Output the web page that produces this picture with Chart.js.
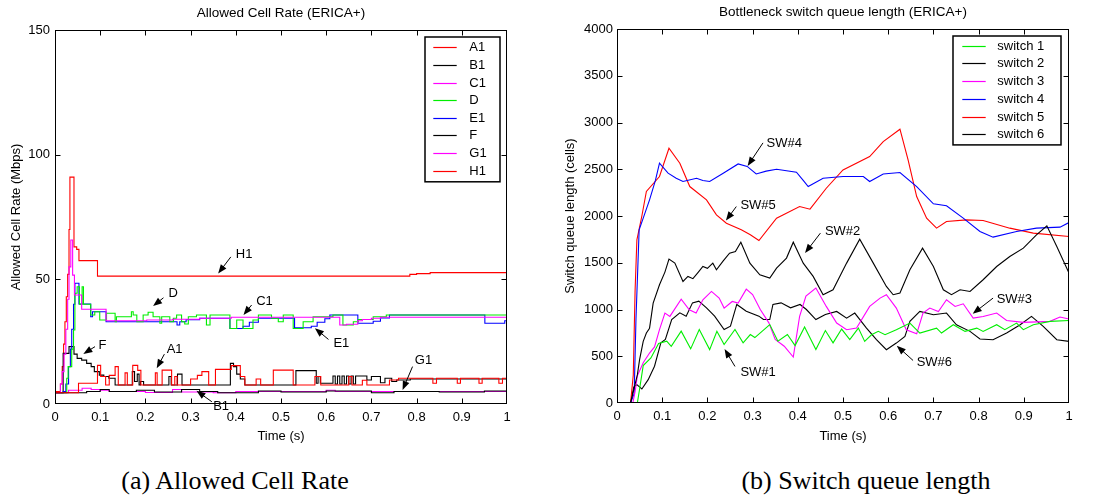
<!DOCTYPE html>
<html>
<head>
<meta charset="utf-8">
<script src="https://cdn.jsdelivr.net/npm/chart.js@4.4.1/dist/chart.umd.min.js"></script>
<style>
  html, body { margin: 0; padding: 0; background: #fff; }
  body { width: 1101px; height: 502px; position: relative; overflow: hidden; }
  .panel { position: absolute; top: 0; height: 445px; }
  #left { left: 0; width: 550px; }
  #right { left: 550px; width: 551px; }
  .caption { position: absolute; top: 466px; line-height: 30px; font-family: "Liberation Serif", "Times New Roman", serif; font-size: 26px; color: #000; text-align: center; white-space: nowrap; }
</style>
</head>
<body>
<div class="panel" id="left"><canvas id="acrChart" width="550" height="445"></canvas></div>
<div class="panel" id="right"><canvas id="queueChart" width="551" height="445"></canvas></div>
<div class="caption" style="left:0;width:470px">(a) Allowed Cell Rate</div>
<div class="caption" style="left:650px;width:432px">(b) Switch queue length</div>
<script>
// ---- axis ticks ----
const timeTicks = [0, 0.1, 0.2, 0.3, 0.4, 0.5, 0.6, 0.7, 0.8, 0.9, 1];
const timeLabels = ['0', '0.1', '0.2', '0.3', '0.4', '0.5', '0.6', '0.7', '0.8', '0.9', '1'];
const acrTicks = [0, 50, 100, 150];
const queueTicks = [0, 500, 1000, 1500, 2000, 2500, 3000, 3500, 4000];

// ---- (a) allowed cell rate, step series (time s, Mbps) ----
const a1T = [0, 0.052, 0.094, 0.101, 0.112, 0.12, 0.133, 0.14, 0.155, 0.16, 0.172, 0.183, 0.19, 0.222, 0.226, 0.237, 0.258, 0.265, 0.27, 0.3, 0.315, 0.325, 0.34, 0.355, 0.39, 0.41, 0.42, 0.445, 0.455, 0.483, 0.527, 0.575, 0.588, 0.65, 0.657, 0.68, 0.69, 0.74, 0.76, 0.836, 0.844, 0.89, 0.897, 0.938, 0.945, 0.982, 0.99, 1];
const a1V = [4.5, 8.3, 15.5, 11, 7.6, 11.5, 15, 7.6, 12.5, 7.6, 15.5, 13.5, 7.6, 12.5, 7.6, 13.6, 7.6, 11, 7.6, 10, 11.5, 13, 7.6, 13.9, 15.4, 11, 7.6, 10, 7.6, 13.6, 7.6, 11, 7.6, 11, 7.6, 9.5, 7.6, 9.6, 10.3, 8.3, 10.3, 8.3, 10.3, 8.3, 10.3, 8.3, 10.3, 10.3];
const b1T = [0, 0.07, 0.1, 0.12, 0.18, 0.22, 0.28, 0.32, 0.36, 0.45, 0.5, 0.6, 0.7, 0.75, 0.85, 0.95, 1];
const b1V = [4.5, 5, 5.8, 5, 5.5, 4.8, 5.8, 5, 4.5, 5.2, 4.8, 5.2, 4.5, 5, 4.8, 5.2, 5];
const c1T = [0, 0.012, 0.016, 0.02, 0.024, 0.028, 0.031, 0.035, 0.039, 0.043, 0.059, 0.113, 0.203, 0.26, 0.32, 0.39, 0.63, 0.645, 0.67, 0.68, 0.7, 0.72, 1];
const c1V = [4.5, 8, 13, 20, 30, 42, 55, 65.8, 51.7, 43.7, 38, 33.4, 33.7, 34, 34.4, 34.8, 31.7, 32, 33.4, 33.9, 34.4, 34.8, 34.8];
const dT = [0, 0.026, 0.029, 0.037, 0.041, 0.044, 0.049, 0.054, 0.06, 0.063, 0.079, 0.088, 0.099, 0.114, 0.133, 0.136, 0.169, 0.173, 0.181, 0.195, 0.206, 0.217, 0.232, 0.236, 0.254, 0.262, 0.269, 0.28, 0.287, 0.295, 0.313, 0.335, 0.343, 0.387, 0.402, 0.416, 0.438, 0.45, 0.479, 0.494, 0.505, 0.527, 0.549, 0.571, 0.615, 0.637, 0.66, 0.671, 0.704, 0.733, 1];
const dV = [4.5, 10.3, 15, 22, 29.7, 44.4, 47, 40, 47, 40, 35.7, 37, 33.7, 36.4, 33, 35, 37, 35.7, 33, 35.7, 36.8, 35, 32.4, 35, 33, 34.4, 35.7, 33, 32.1, 35, 35.7, 31.7, 35.7, 30.3, 33.7, 30.3, 33.7, 35.7, 34.4, 33, 35.7, 30.3, 33, 35, 35.7, 31.7, 33, 33.9, 35, 35.7, 35.3];
const e1T = [0, 0.018, 0.024, 0.03, 0.034, 0.037, 0.041, 0.044, 0.053, 0.079, 0.083, 0.113, 0.27, 0.276, 0.29, 0.32, 0.387, 0.416, 0.43, 0.45, 0.53, 0.567, 0.58, 0.597, 0.608, 0.67, 0.704, 0.72, 0.74, 0.951, 0.995, 1];
const e1V = [4.5, 5, 8, 15, 22, 30, 40, 48.4, 40.1, 35, 37, 33, 31.7, 33, 33.8, 34.4, 30.3, 31.2, 32.8, 34.4, 30.6, 31.2, 32.8, 34.2, 35.7, 32.4, 33.2, 34.5, 35.7, 32.4, 33.4, 33.4];
const fT = [0, 0.018, 0.031, 0.042, 0.049, 0.059, 0.07, 0.08, 0.087, 0.098, 0.108, 0.119, 0.133, 0.171, 0.176, 0.182, 0.186, 0.189, 0.196, 0.252, 0.257, 0.271, 0.281, 0.388, 0.395, 0.402, 0.41, 0.42, 0.533, 0.578, 0.582, 0.587, 0.615, 0.62, 0.625, 0.63, 0.635, 0.64, 0.645, 0.65, 0.655, 0.66, 0.665, 0.67, 0.69, 0.7, 0.72, 0.73, 0.745, 0.756, 0.786, 1];
const fV = [4.5, 20.3, 23, 20, 18.3, 17.6, 16.3, 15, 13, 11.6, 11, 10.3, 7.6, 13, 9, 12, 7.6, 9, 7.6, 11, 7.6, 12, 7.6, 16.3, 15, 12, 10, 7.6, 13.4, 8.3, 11, 8.3, 11.2, 8, 11.2, 8, 11.2, 8, 11.2, 8, 11.2, 8, 11.2, 11.2, 9.6, 11, 8.5, 10.3, 9, 9.6, 10, 9.6];
const g1T = [0, 0.03, 0.06, 0.08, 0.1, 0.12, 0.2, 0.26, 0.28, 0.35, 0.4, 0.5, 0.6, 0.62, 1];
const g1V = [4.5, 5.5, 6.3, 5.8, 5.5, 5, 4.6, 5.8, 4.8, 4.5, 5, 5, 5.5, 5, 5];
const h1T = [0, 0.012, 0.016, 0.019, 0.022, 0.025, 0.028, 0.031, 0.033, 0.042, 0.048, 0.053, 0.094, 0.785, 0.8, 0.83, 1];
const h1V = [5, 8, 15, 24, 33, 43, 52, 70, 91, 63, 62, 57.5, 51.3, 52, 52.3, 52.7, 52.7];

// ---- (b) bottleneck queue length (time s, cells) ----
const sw1T = [0, 0.045, 0.05, 0.058, 0.075, 0.092, 0.11, 0.12, 0.142, 0.163, 0.182, 0.205, 0.221, 0.237, 0.261, 0.279, 0.295, 0.305, 0.338, 0.356, 0.377, 0.394, 0.415, 0.44, 0.461, 0.478, 0.497, 0.515, 0.534, 0.548, 0.563, 0.578, 0.593, 0.618, 0.648, 0.67, 0.707, 0.718, 0.744, 0.77, 0.796, 0.81, 0.84, 0.858, 0.884, 0.899, 0.921, 0.958, 1];
const sw1V = [0, 0, 150, 400, 482, 636, 661, 607, 768, 579, 786, 571, 768, 625, 786, 643, 732, 700, 839, 661, 732, 614, 814, 571, 775, 643, 791, 677, 801, 659, 730, 766, 730, 784, 855, 748, 801, 748, 837, 766, 801, 766, 837, 784, 855, 784, 837, 873, 883];
const sw2T = [0, 0.03, 0.039, 0.045, 0.05, 0.058, 0.065, 0.072, 0.08, 0.094, 0.106, 0.115, 0.128, 0.146, 0.157, 0.168, 0.18, 0.19, 0.2, 0.212, 0.22, 0.235, 0.249, 0.262, 0.274, 0.294, 0.316, 0.338, 0.353, 0.375, 0.39, 0.412, 0.434, 0.456, 0.478, 0.508, 0.537, 0.567, 0.596, 0.611, 0.626, 0.648, 0.676, 0.7, 0.722, 0.74, 0.759, 0.781, 0.81, 0.84, 0.869, 0.899, 0.928, 0.951, 0.973, 1];
const sw2V = [0, 0, 180, 300, 463, 660, 748, 800, 1069, 1264, 1400, 1539, 1496, 1300, 1354, 1330, 1400, 1460, 1440, 1496, 1425, 1520, 1603, 1620, 1720, 1496, 1371, 1336, 1443, 1550, 1720, 1496, 1354, 1158, 1211, 1496, 1752, 1496, 1247, 1158, 1176, 1425, 1656, 1460, 1211, 1158, 1211, 1193, 1318, 1460, 1567, 1656, 1798, 1895, 1674, 1389];
const sw3T = [0, 0.035, 0.04, 0.045, 0.058, 0.072, 0.083, 0.094, 0.106, 0.117, 0.142, 0.16, 0.175, 0.19, 0.209, 0.226, 0.237, 0.255, 0.268, 0.286, 0.3, 0.317, 0.336, 0.35, 0.37, 0.39, 0.404, 0.418, 0.44, 0.463, 0.486, 0.508, 0.53, 0.559, 0.582, 0.596, 0.618, 0.64, 0.663, 0.677, 0.692, 0.711, 0.729, 0.748, 0.766, 0.788, 0.81, 0.84, 0.862, 0.899, 0.958, 0.98, 1];
const sw3V = [0, 0, 120, 290, 430, 534, 600, 784, 962, 926, 1111, 997, 962, 1104, 1193, 1122, 1015, 1086, 1069, 1218, 1160, 1000, 857, 679, 607, 492, 926, 1143, 1229, 1033, 855, 784, 801, 1033, 1122, 1158, 1015, 784, 740, 962, 1015, 979, 1104, 1033, 1061, 908, 926, 962, 883, 862, 873, 919, 898];
const sw4T = [0, 0.03, 0.038, 0.042, 0.049, 0.058, 0.072, 0.085, 0.094, 0.113, 0.131, 0.146, 0.176, 0.19, 0.205, 0.235, 0.268, 0.288, 0.308, 0.33, 0.353, 0.397, 0.412, 0.423, 0.456, 0.5, 0.545, 0.559, 0.589, 0.626, 0.663, 0.7, 0.729, 0.766, 0.803, 0.832, 0.884, 0.928, 0.98, 1];
const sw4V = [0, 0, 100, 900, 1852, 1977, 2173, 2380, 2565, 2458, 2404, 2369, 2404, 2380, 2369, 2458, 2557, 2530, 2450, 2480, 2500, 2468, 2380, 2315, 2404, 2422, 2422, 2369, 2450, 2465, 2315, 2130, 2109, 1977, 1834, 1774, 1834, 1870, 1881, 1930];
const sw5T = [0, 0.03, 0.036, 0.04, 0.044, 0.055, 0.065, 0.094, 0.115, 0.139, 0.161, 0.198, 0.22, 0.242, 0.275, 0.295, 0.314, 0.353, 0.404, 0.427, 0.463, 0.5, 0.559, 0.589, 0.626, 0.644, 0.663, 0.685, 0.707, 0.729, 0.773, 0.81, 0.869, 0.921, 1];
const sw5V = [0, 0, 300, 1200, 1745, 2000, 2262, 2422, 2725, 2565, 2315, 2173, 2012, 1923, 1852, 1800, 1738, 1977, 2101, 2073, 2297, 2493, 2636, 2796, 2928, 2600, 2208, 1977, 1870, 1941, 1959, 1952, 1870, 1817, 1781];
const sw6T = [0, 0.03, 0.037, 0.044, 0.055, 0.069, 0.083, 0.097, 0.107, 0.121, 0.139, 0.153, 0.167, 0.181, 0.198, 0.216, 0.237, 0.251, 0.265, 0.286, 0.314, 0.324, 0.338, 0.345, 0.363, 0.384, 0.405, 0.419, 0.44, 0.461, 0.486, 0.508, 0.526, 0.552, 0.574, 0.596, 0.618, 0.637, 0.648, 0.67, 0.7, 0.729, 0.751, 0.781, 0.803, 0.832, 0.862, 0.892, 0.917, 0.943, 0.973, 1];
const sw6V = [0, 0, 170, 196, 150, 250, 393, 643, 679, 893, 964, 929, 1071, 1089, 1018, 929, 786, 821, 1054, 982, 929, 893, 893, 1054, 1071, 1018, 1054, 1000, 893, 946, 979, 908, 962, 801, 677, 570, 641, 712, 873, 979, 944, 962, 837, 766, 684, 677, 748, 837, 926, 819, 677, 659];

// ---- labelled arrows: text anchor, arrow tail, arrow head (data coords) ----
const acrNotes = [
  { text: 'H1', at: [0.400, 59.8], from: [0.389, 59], to: [0.361, 52.3] },
  { text: 'D', at: [0.251, 44.4], from: [0.24, 42.6], to: [0.217, 39.3] },
  { text: 'C1', at: [0.445, 41.3], from: [0.435, 39.7], to: [0.417, 35.7] },
  { text: 'E1', at: [0.616, 24.3], from: [0.605, 25.9], to: [0.575, 30.4] },
  { text: 'F', at: [0.096, 23.3], from: [0.0885, 23], to: [0.0627, 20.1] },
  { text: 'A1', at: [0.247, 21.7], from: [0.242, 20], to: [0.225, 14.3] },
  { text: 'G1', at: [0.796, 17.4], from: [0.791, 15], to: [0.769, 5.6] },
  { text: 'B1', at: [0.350, -0.8], from: [0.347, 0.9], to: [0.313, 5.3] }
];
const queueNotes = [
  { text: 'SW#4', at: [0.331, 2771], from: [0.323, 2782], to: [0.289, 2536] },
  { text: 'SW#5', at: [0.273, 2109], from: [0.264, 2101], to: [0.241, 1951] },
  { text: 'SW#2', at: [0.46, 1834], from: [0.45, 1817], to: [0.416, 1603] },
  { text: 'SW#3', at: [0.84, 1104], from: [0.832, 1122], to: [0.787, 954] },
  { text: 'SW#6', at: [0.663, 434], from: [0.655, 455], to: [0.619, 612] },
  { text: 'SW#1', at: [0.273, 327], from: [0.261, 391], to: [0.238, 577] }
];

const FONT = '"Liberation Sans", Arial, sans-serif';
Chart.defaults.font.family = FONT;
Chart.defaults.font.size = 13;
Chart.defaults.color = '#000';

function series(label, ts, vs, color, stepped) {
  return {
    label,
    data: ts.map((t, i) => ({ x: t, y: vs[i] })),
    borderColor: color,
    backgroundColor: color,
    borderWidth: 1.1,
    pointRadius: 0,
    stepped: stepped,
    fill: false
  };
}

// box, inward tick marks
const framePlugin = {
  id: 'frame',
  afterDatasetsDraw(chart) {
    const { ctx, chartArea: a, scales: { x, y } } = chart;
    const L = Math.round(a.left) + 0.5, R = Math.round(a.right) - 0.5;
    const T = Math.round(a.top) + 0.5, B = Math.round(a.bottom) - 0.5;
    ctx.save();
    ctx.strokeStyle = '#000';
    ctx.lineWidth = 1;
    ctx.strokeRect(L, T, R - L, B - T);
    ctx.beginPath();
    x.ticks.forEach(t => {
      const px = Math.round(x.getPixelForValue(t.value)) + 0.5;
      if (px <= L + 1 || px >= R - 1) return;
      ctx.moveTo(px, B); ctx.lineTo(px, B - 5);
      ctx.moveTo(px, T); ctx.lineTo(px, T + 5);
    });
    y.ticks.forEach(t => {
      const py = Math.round(y.getPixelForValue(t.value)) + 0.5;
      if (py <= T + 1 || py >= B - 1) return;
      ctx.moveTo(L, py); ctx.lineTo(L + 5, py);
      ctx.moveTo(R, py); ctx.lineTo(R - 5, py);
    });
    ctx.stroke();
    ctx.restore();
  }
};

function drawArrow(ctx, x1, y1, x2, y2) {
  const ang = Math.atan2(y2 - y1, x2 - x1);
  const len = 9, half = 3.5;
  const c = Math.cos(ang), s = Math.sin(ang);
  ctx.beginPath();
  ctx.moveTo(x1, y1);
  ctx.lineTo(x2 - c * len * 0.7, y2 - s * len * 0.7);
  ctx.stroke();
  ctx.beginPath();
  ctx.moveTo(x2, y2);
  ctx.lineTo(x2 - c * len - s * half, y2 - s * len + c * half);
  ctx.lineTo(x2 - c * len + s * half, y2 - s * len - c * half);
  ctx.closePath();
  ctx.fill();
}

const notesPlugin = {
  id: 'notes',
  afterDraw(chart, args, opts) {
    const { ctx, scales: { x, y } } = chart;
    ctx.save();
    ctx.strokeStyle = '#000';
    ctx.fillStyle = '#000';
    ctx.lineWidth = 1;
    ctx.font = '13px ' + FONT;
    ctx.textAlign = 'left';
    ctx.textBaseline = 'middle';
    (opts.items || []).forEach(n => {
      drawArrow(ctx,
        x.getPixelForValue(n.from[0]), y.getPixelForValue(n.from[1]),
        x.getPixelForValue(n.to[0]), y.getPixelForValue(n.to[1]));
      ctx.fillText(n.text, x.getPixelForValue(n.at[0]), y.getPixelForValue(n.at[1]));
    });
    ctx.restore();
  }
};

const boxLegend = {
  id: 'boxLegend',
  afterDraw(chart, args, opts) {
    const { ctx, chartArea: a } = chart;
    const sets = chart.data.datasets;
    const w = opts.width;
    const h = opts.first * 2 + (sets.length - 1) * opts.rowGap + 1;
    const x0 = Math.round(a.right - opts.right - w), y0 = Math.round(a.top + opts.top);
    ctx.save();
    ctx.fillStyle = '#fff';
    ctx.fillRect(x0, y0, w, h);
    ctx.lineWidth = 1.5;
    ctx.strokeStyle = '#000';
    ctx.strokeRect(x0, y0, w, h);
    ctx.font = '13px ' + FONT;
    ctx.textBaseline = 'middle';
    ctx.textAlign = 'left';
    sets.forEach((ds, i) => {
      const yy = Math.round(y0 + opts.first + i * opts.rowGap) + 0.5;
      ctx.strokeStyle = ds.borderColor;
      ctx.lineWidth = 1.2;
      ctx.beginPath();
      ctx.moveTo(x0 + opts.lineStart, yy);
      ctx.lineTo(x0 + opts.lineEnd, yy);
      ctx.stroke();
      ctx.fillStyle = '#000';
      ctx.fillText(ds.label, x0 + opts.textX, yy);
    });
    ctx.restore();
  }
};

function xAxis(height) {
  return {
    type: 'linear', min: 0, max: 1,
    grid: { display: false, drawTicks: false }, border: { display: false },
    afterBuildTicks: s => { s.ticks = timeTicks.map(v => ({ value: v })); },
    afterFit: s => { s.height = height; },
    ticks: { padding: 6, maxRotation: 0, autoSkip: false, callback: (v, i) => timeLabels[i] },
    title: { display: true, text: 'Time (s)', padding: { top: 0, bottom: 1.2 } }
  };
}

function yAxis(max, ticks, width, label, titlePad, tickPad) {
  return {
    type: 'linear', min: 0, max: max,
    grid: { display: false, drawTicks: false }, border: { display: false },
    afterBuildTicks: s => { s.ticks = ticks.map(v => ({ value: v })); },
    afterFit: s => { s.width = width; },
    ticks: { padding: tickPad, autoSkip: false, callback: v => String(v) },
    title: { display: true, text: label, padding: { top: titlePad, bottom: 0 } }
  };
}

new Chart(document.getElementById('acrChart'), {
  type: 'line',
  data: {
    datasets: [
      series('A1', a1T, a1V, '#ff0000', true),
      series('B1', b1T, b1V, '#000000', true),
      series('C1', c1T, c1V, '#ff00ff', true),
      series('D', dT, dV, '#00ee00', true),
      series('E1', e1T, e1V, '#0000ff', true),
      series('F', fT, fV, '#000000', true),
      series('G1', g1T, g1V, '#ff00ff', true),
      series('H1', h1T, h1V, '#ff0000', true)
    ]
  },
  options: {
    responsive: false,
    animation: false,
    devicePixelRatio: 1,
    layout: { padding: { left: 0, right: 43, top: 0, bottom: 0 } },
    plugins: {
      legend: { display: false },
      tooltip: { enabled: false },
      title: {
        display: true, text: 'Allowed Cell Rate (ERICA+)', fullSize: false,
        font: { size: 13.5, weight: 'normal' }, padding: { top: 5.2, bottom: 8.6 }
      },
      notes: { items: acrNotes },
      boxLegend: { width: 75, right: 7, top: 7, first: 10.3, rowGap: 17.6, lineStart: 8.3, lineEnd: 31.7, textX: 44.3 }
    },
    scales: {
      x: xAxis(41),
      y: yAxis(150, acrTicks, 55, 'Allowed Cell Rate (Mbps)', 8.9, 5)
    }
  },
  plugins: [framePlugin, notesPlugin, boxLegend]
});

new Chart(document.getElementById('queueChart'), {
  type: 'line',
  data: {
    datasets: [
      series('switch 1', sw1T, sw1V, '#00ee00', false),
      series('switch 2', sw2T, sw2V, '#000000', false),
      series('switch 3', sw3T, sw3V, '#ff00ff', false),
      series('switch 4', sw4T, sw4V, '#0000ff', false),
      series('switch 5', sw5T, sw5V, '#ff0000', false),
      series('switch 6', sw6T, sw6V, '#000000', false)
    ]
  },
  options: {
    responsive: false,
    animation: false,
    devicePixelRatio: 1,
    layout: { padding: { left: 0, right: 32, top: 0, bottom: 0 } },
    plugins: {
      legend: { display: false },
      tooltip: { enabled: false },
      title: {
        display: true, text: 'Bottleneck switch queue length (ERICA+)', fullSize: false,
        font: { size: 13.5, weight: 'normal' }, padding: { top: 4.2, bottom: 8.6 }
      },
      notes: { items: queueNotes },
      boxLegend: { width: 108, right: 8, top: 7, first: 9.7, rowGap: 17.7, lineStart: 9.3, lineEnd: 32.7, textX: 44.3 }
    },
    scales: {
      x: xAxis(42),
      y: yAxis(4000, queueTicks, 67, 'Switch queue length (cells)', 12.9, 4)
    }
  },
  plugins: [framePlugin, notesPlugin, boxLegend]
});
</script>
</body>
</html>
